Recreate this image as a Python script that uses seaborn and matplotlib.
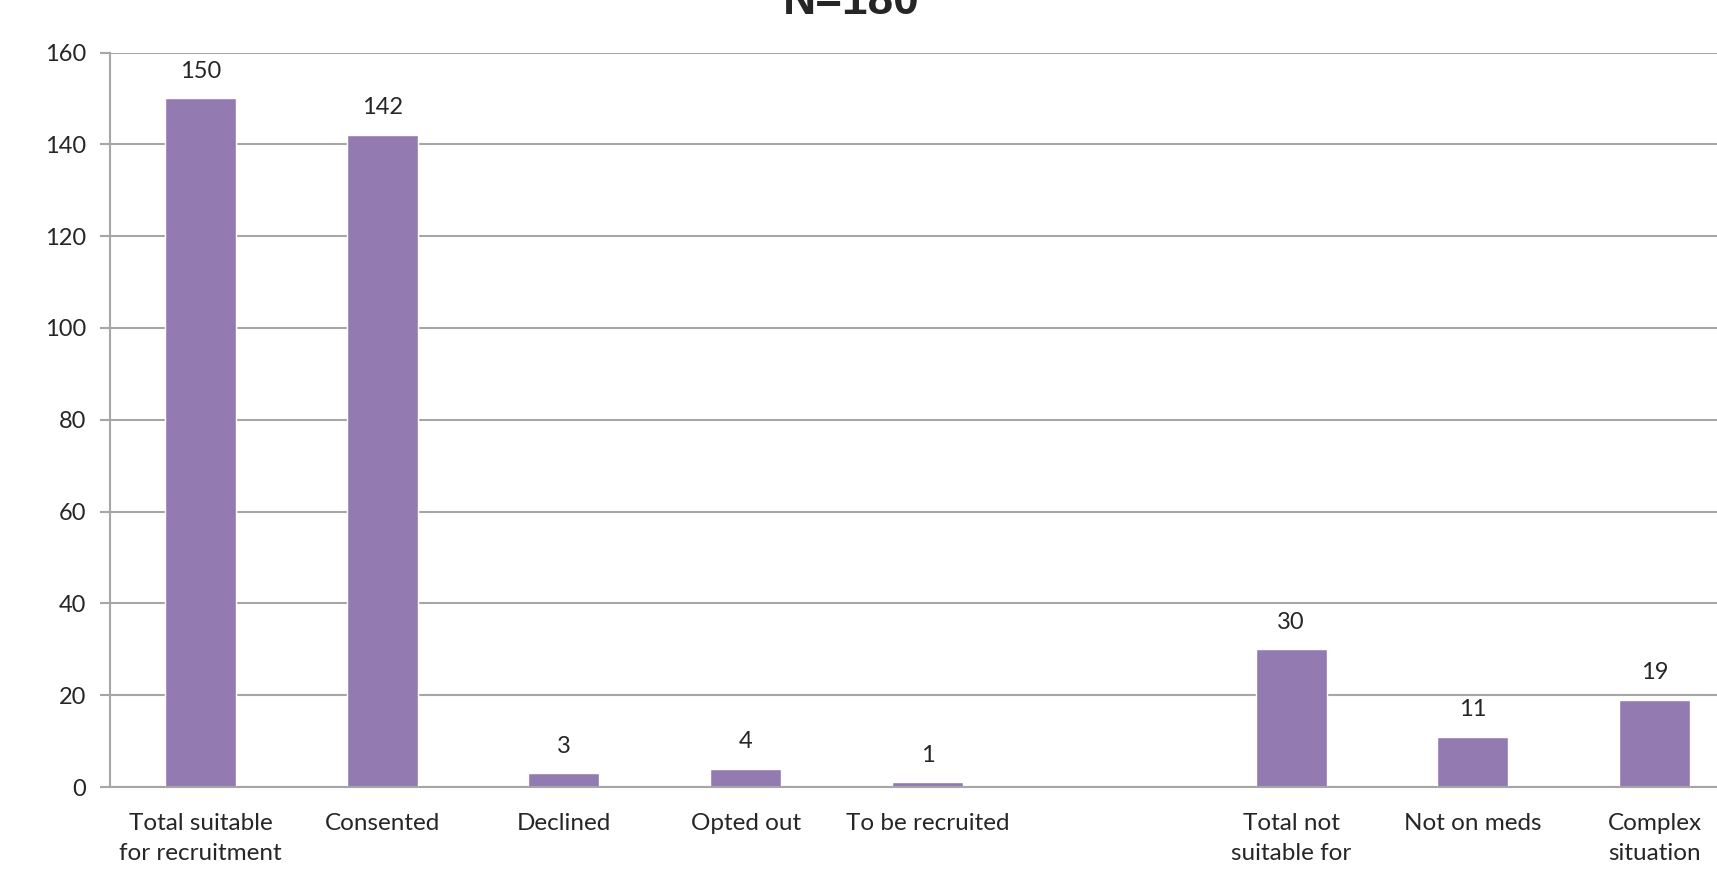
import numpy as np
import pandas as pd
import seaborn as sns
import matplotlib.pyplot as plt

categories = ["Total suitable\nfor recruitment", "Consented", "Declined", "Opted out",
              "To be recruited", " ", "Total not\nsuitable for\nrecruitment",
              "Not on meds", "Complex\nsituation"]
counts = [150, 142, 3, 4, 1, np.nan, 30, 11, 19]
title = "N=180"

df = pd.DataFrame({"category": categories, "count": counts})

sns.set_style("white")
plt.rcParams["font.family"] = ["Lato", "DejaVu Sans"]

fig = plt.figure(figsize=(17.17, 8.72), dpi=100)
ax = fig.add_axes([109.5 / 1717, 85 / 872, 1636 / 1717, 734.5 / 872])

bar_color = "#937AB0"
grid_color = "#A6A6A6"

sns.barplot(data=df, x="category", y="count", order=categories, color=bar_color,
            width=0.39, saturation=1, ax=ax)

for i, v in enumerate(counts):
    if not np.isnan(v):
        ax.annotate(f"{int(v)}", (i, v), xytext=(0, 12), textcoords="offset points",
                    ha="center", va="bottom", fontsize=17)

ax.set_ylim(0, 160)
ax.set_xlim(-0.5, len(categories) - 0.5)
ax.set_yticks(np.arange(0, 161, 20))
ax.yaxis.grid(True, color=grid_color, linewidth=1.5)
ax.set_axisbelow(True)
ax.set_xlabel("")
ax.set_ylabel("")

for s in ["top", "right"]:
    ax.spines[s].set_visible(False)
for s in ["left", "bottom"]:
    ax.spines[s].set_color(grid_color)
    ax.spines[s].set_linewidth(1.5)

ax.set_xticks(np.arange(-0.5, len(categories), 1), minor=True)
ax.tick_params(axis="x", which="major", length=0, labelsize=17.5, pad=19)
ax.tick_params(axis="x", which="minor", length=7, color=grid_color, width=1.5, direction="out")
ax.tick_params(axis="y", length=7, color=grid_color, width=1.5, direction="out",
               labelsize=17, pad=10, left=True)
for lbl in ax.get_xticklabels():
    lbl.set_linespacing(1.5)

fig.text(851 / 1717, 1 - 14 / 872, title, ha="center", va="baseline",
         fontsize=33, fontweight="bold", family=["Liberation Sans", "DejaVu Sans"])

fig.savefig("out.png", dpi=100)
